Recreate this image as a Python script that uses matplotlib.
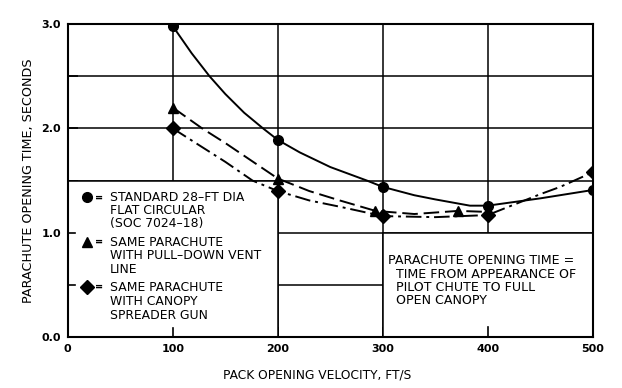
import matplotlib.pyplot as plt
from matplotlib.patches import Rectangle

# Measured points (markers)
v_pts = [100, 200, 300, 400, 500]
std_pts = [2.98, 1.89, 1.44, 1.26, 1.41]
vent_v = [100, 200, 293, 372]
vent_pts = [2.20, 1.52, 1.21, 1.21]
gun_pts = [2.00, 1.40, 1.16, 1.17, 1.58]

# Faired curves
std_cv = [100, 118, 135, 150, 168, 186, 200, 221, 250, 285, 300, 330, 350, 383, 400, 450, 500]
std_cy = [2.98, 2.72, 2.50, 2.33, 2.15, 2.00, 1.89, 1.77, 1.63, 1.50, 1.44, 1.36, 1.32, 1.26, 1.26, 1.33, 1.41]
vent_cv = [100, 128, 150, 175, 200, 230, 259, 293, 330, 372, 400]
vent_cy = [2.20, 2.00, 1.86, 1.69, 1.52, 1.40, 1.31, 1.21, 1.18, 1.21, 1.20]
gun_cv = [100, 125, 150, 176, 200, 230, 259, 300, 350, 400, 450, 469, 500]
gun_cy = [2.00, 1.84, 1.68, 1.50, 1.40, 1.31, 1.25, 1.16, 1.15, 1.17, 1.37, 1.44, 1.58]

legend_lines = ["STANDARD 28\u2013FT DIA", "FLAT CIRCULAR", "(SOC 7024\u201318)",
                "SAME PARACHUTE", "WITH PULL\u2013DOWN VENT", "LINE",
                "SAME PARACHUTE", "WITH CANOPY", "SPREADER GUN"]
note_lines = ["PARACHUTE OPENING TIME =", "TIME FROM APPEARANCE OF",
              "PILOT CHUTE TO FULL", "OPEN CANOPY"]

plt.rcParams['font.family'] = 'DejaVu Sans'
fig = plt.figure(figsize=(6.22, 3.88), dpi=100)
ax = fig.add_axes([0.109, 0.131, 0.844, 0.807])
ax.set_xlim(0, 500)
ax.set_ylim(0, 3.0)

ax.set_xticks([0, 100, 200, 300, 400, 500])
ax.set_yticks([0, 1, 2, 3])
ax.set_yticklabels(["0.0", "1.0", "2.0", "3.0"])
ax.set_yticks([0.5, 1.5, 2.5], minor=True)
ax.tick_params(which='both', direction='in', length=7, width=1.2, labelsize=8, pad=5)
ax.grid(True, which='both', color='black', linewidth=1.1, zorder=0.5)
ax.set_axisbelow(True)
for s in ax.spines.values():
    s.set_linewidth(1.5)
for lab in ax.get_xticklabels() + ax.get_yticklabels():
    lab.set_fontweight('bold')

# blank boxes for legend and note
ax.add_patch(Rectangle((0, 0), 200, 1.5, facecolor='white', edgecolor='black', linewidth=1.1, zorder=1))
ax.add_patch(Rectangle((300, 0), 200, 1.0, facecolor='white', edgecolor='black', linewidth=1.1, zorder=1))
# inward ticks inside the blanked boxes
ax.plot([0, 7], [1.0, 1.0], color='black', lw=1.2, zorder=2)
ax.plot([0, 7], [0.5, 0.5], color='black', lw=1.2, zorder=2)
ax.plot([100, 100], [0, 0.09], color='black', lw=1.2, zorder=2)
ax.plot([400, 400], [0, 0.10], color='black', lw=1.2, zorder=2)

lw = 1.4
ax.plot(std_cv, std_cy, color='black', lw=lw, zorder=3)
ax.plot(vent_cv, vent_cy, color='black', lw=lw, dashes=(8, 3), zorder=3)
ax.plot(gun_cv, gun_cy, color='black', lw=lw, dashes=(8, 2.5, 1.5, 2.5), zorder=3)
ax.plot(v_pts, std_pts, 'o', color='black', ms=7, zorder=4)
ax.plot(vent_v, vent_pts, '^', color='black', ms=7, zorder=4)
ax.plot(v_pts, gun_pts, 'D', color='black', ms=7, zorder=4)

# legend inside box
ax.plot([18], [1.34], 'o', color='black', ms=7, zorder=4)
ax.plot([18], [0.91], '^', color='black', ms=7, zorder=4)
ax.plot([18], [0.48], 'D', color='black', ms=7, zorder=4)
for y in [1.34, 0.91, 0.48]:
    ax.text(26, y, "=", fontsize=7, fontweight='bold', va='center', ha='left', zorder=4)
legend_y = [1.34, 1.21, 1.09, 0.91, 0.78, 0.65, 0.48, 0.34, 0.21]
for txt, y in zip(legend_lines, legend_y):
    ax.text(40, y, txt, fontsize=8.9, va='center', ha='left', zorder=4)

note_x = [305, 313, 313, 313]
note_y = [0.73, 0.60, 0.48, 0.35]
for txt, x, y in zip(note_lines, note_x, note_y):
    ax.text(x, y, txt, fontsize=9.1, va='center', ha='left', zorder=4)

ax.set_xlabel("PACK OPENING VELOCITY, FT/S", fontsize=8.8)
ax.xaxis.set_label_coords(0.474, -0.099)
ax.set_ylabel("PARACHUTE OPENING TIME, SECONDS", fontsize=9.2)
ax.yaxis.set_label_coords(-0.063, 0.5)

fig.savefig("out.png", dpi=100)
